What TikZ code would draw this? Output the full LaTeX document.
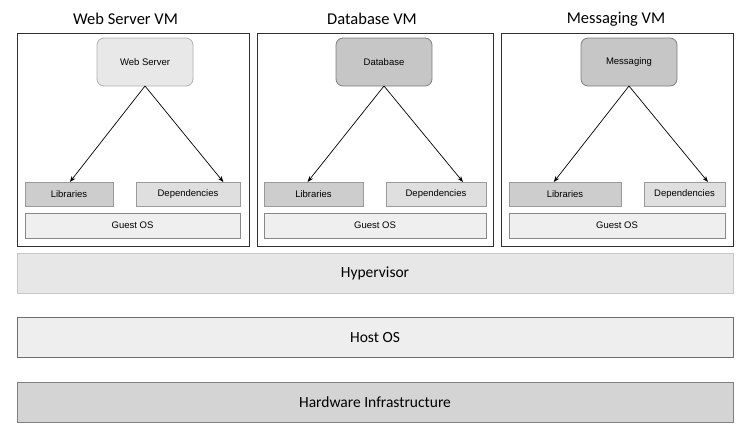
\documentclass[tikz,border=0pt]{standalone}
\usepackage{fontspec}
\setmainfont{Liberation Sans}
\newfontfamily\calib{Carlito}
\usetikzlibrary{arrows.meta,calc}
\definecolor{vmline}{HTML}{303030}
\definecolor{wsfill}{HTML}{E8E8E8}
\definecolor{wsline}{HTML}{B0B0B0}
\definecolor{dbfill}{HTML}{C6C6C6}
\definecolor{dbline}{HTML}{7E7E7E}
\definecolor{libfill}{HTML}{CDCDCD}
\definecolor{depfill}{HTML}{DFDFDF}
\definecolor{smline}{HTML}{9A9A9A}
\definecolor{gosfill}{HTML}{EFEFEF}
\definecolor{gosline}{HTML}{888888}
\definecolor{hypfill}{HTML}{E7E7E7}
\definecolor{hypline}{HTML}{C6C6C6}
\definecolor{hostfill}{HTML}{EEEEEE}
\definecolor{hostline}{HTML}{6E6E6E}
\definecolor{hwfill}{HTML}{D4D4D4}
\definecolor{hwline}{HTML}{808080}
\begin{document}
\begin{tikzpicture}[x=1pt,y=-1pt,
  base/.style={draw, inner sep=0pt, outer sep=0pt, line width=0.8pt},
  vmbox/.style={base, draw=vmline, line width=0.9pt},
  vmtitle/.style={inner sep=0pt, font=\calib\fontsize{16.5}{18}\selectfont},
  small/.style={font=\fontsize{9.5}{11}\selectfont},
  appws/.style={base, small, rounded corners=7pt, fill=wsfill, draw=wsline, minimum width=96pt, minimum height=48pt},
  appdb/.style={base, small, rounded corners=7pt, fill=dbfill, draw=dbline, minimum width=96pt, minimum height=48pt},
  libbox/.style={base, small, fill=libfill, draw=smline, minimum height=24pt},
  depbox/.style={base, small, fill=depfill, draw=smline, minimum height=24pt},
  gosbox/.style={base, small, fill=gosfill, draw=gosline, minimum height=25pt},
  layer/.style={base, font=\calib\fontsize{15.5}{18}\selectfont, minimum width=716pt, minimum height=40pt},
  conn/.style={-{Stealth[length=6pt,width=4.5pt]}, line width=0.7pt, black}
]
\useasboundingbox (0,0) rectangle (751,439);

% VM boxes
\node[vmbox, minimum width=232pt, minimum height=213pt] (vm1) at (133,139.5) {};
\node[vmbox, minimum width=236pt, minimum height=213pt] (vm2) at (375,139.5) {};
\node[vmbox, minimum width=232pt, minimum height=213pt] (vm3) at (617,139.5) {};

% titles
\node[vmtitle] (t1) at (125.5,19) {Web Server VM};
\node[vmtitle] (t2) at (372,19) {Database VM};
\node[vmtitle] (t3) at (616,19) {Messaging VM};

% application nodes
\node[appws] (ws) at (145,62) {Web Server};
\node[appdb] (db) at (384,62) {Database};
\node[appdb] (msg) at (629,62) {Messaging};

% libraries / dependencies / guest OS
\node[libbox, minimum width=88pt] (lib1) at (69,194) {Libraries};
\node[depbox, minimum width=104pt] (dep1) at (188,194) {Dependencies};
\node[gosbox, minimum width=215pt] (gos1) at (132.5,225.5) {Guest OS};

\node[libbox, minimum width=99pt] (lib2) at (313.5,194) {Libraries};
\node[depbox, minimum width=100pt] (dep2) at (436,194) {Dependencies};
\node[gosbox, minimum width=222pt] (gos2) at (375,225.5) {Guest OS};

\node[libbox, minimum width=112pt] (lib3) at (565,194) {Libraries};
\node[depbox, minimum width=81pt] (dep3) at (684.5,194) {Dependencies};
\node[gosbox, minimum width=216pt] (gos3) at (617,225.5) {Guest OS};

% arrows
\draw[conn] (ws.south) -- ($(lib1.north west)!0.51!(lib1.north east)$);
\draw[conn] (ws.south) -- ($(dep1.north west)!0.84!(dep1.north east)$);
\draw[conn] (db.south) -- ($(lib2.north west)!0.44!(lib2.north east)$);
\draw[conn] (db.south) -- ($(dep2.north west)!0.77!(dep2.north east)$);
\draw[conn] (msg.south) -- ($(lib3.north west)!0.40!(lib3.north east)$);
\draw[conn] (msg.south) -- ($(dep3.north west)!0.79!(dep3.north east)$);

% layers
\node[layer, fill=hypfill, draw=hypline] (hyp) at (375,273) {Hypervisor};
\node[layer, fill=hostfill, draw=hostline] (host) at (375,337.5) {Host OS};
\node[layer, fill=hwfill, draw=hwline] (hw) at (375,402) {Hardware Infrastructure};
\end{tikzpicture}
\end{document}
